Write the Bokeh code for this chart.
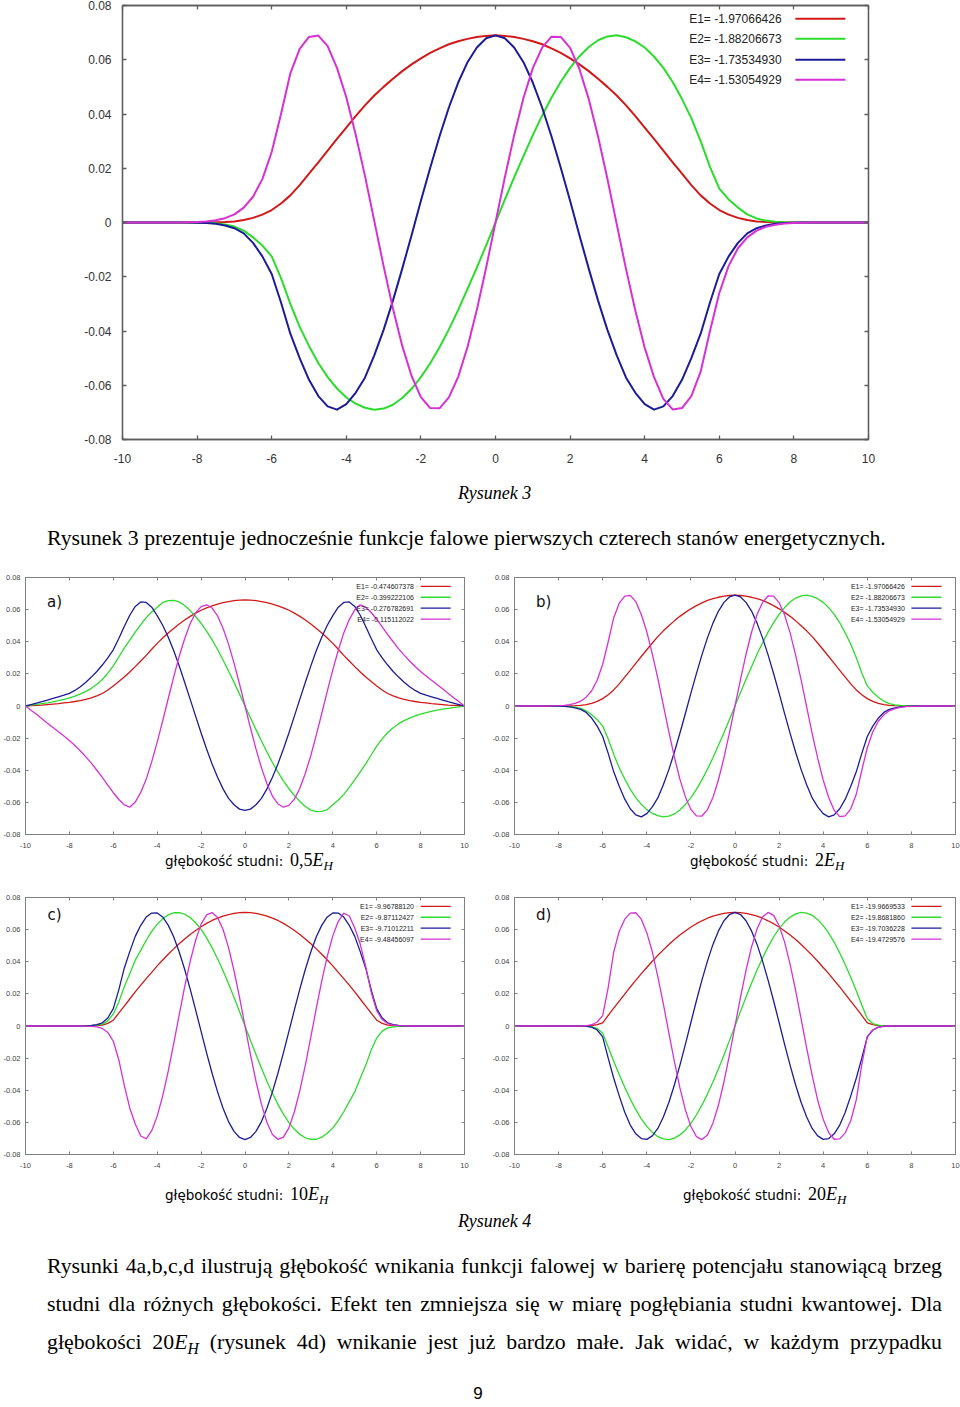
from bokeh.plotting import figure
from bokeh.models import (Range1d, FixedTicker, LinearAxis, Label, Arrow,
                          CustomJSTickFormatter, Div, ColumnDataSource)
from bokeh.layouts import column, row
from bokeh.embed import file_html
from bokeh.resources import INLINE

# ---------------- data ----------------
X_TICKS = [-10, -8, -6, -4, -2, 0, 2, 4, 6, 8, 10]
Y_TICKS = [-0.08, -0.06, -0.04, -0.02, 0, 0.02, 0.04, 0.06, 0.08]

X = [-10.0, -9.75, -9.5, -9.25, -9.0, -8.75, -8.5, -8.25, -8.0, -7.75, -7.5, -7.25,
     -7.0, -6.75, -6.5, -6.25, -6.0, -5.75, -5.5, -5.25, -5.0, -4.75, -4.5, -4.25,
     -4.0, -3.75, -3.5, -3.25, -3.0, -2.75, -2.5, -2.25, -2.0, -1.75, -1.5, -1.25,
     -1.0, -0.75, -0.5, -0.25, 0.0, 0.25, 0.5, 0.75, 1.0, 1.25, 1.5, 1.75, 2.0, 2.25,
     2.5, 2.75, 3.0, 3.25, 3.5, 3.75, 4.0, 4.25, 4.5, 4.75, 5.0, 5.25, 5.5, 5.75, 6.0,
     6.25, 6.5, 6.75, 7.0, 7.25, 7.5, 7.75, 8.0, 8.25, 8.5, 8.75, 9.0, 9.25, 9.5, 9.75, 10.0]

# well depth 2 E_H (Rysunek 3 and 4b)
W2_E1 = [0, 0, 0, 0, 0, 0, 0, 0, 0, 0, 0.0001, 0.0002, 0.0004, 0.0009, 0.0017, 0.0029, 0.0046,
         0.0070, 0.0100, 0.0138, 0.0180, 0.0222, 0.0265, 0.0308, 0.0350, 0.0392, 0.0432, 0.0468,
         0.0500, 0.0530, 0.0558, 0.0583, 0.0605, 0.0625, 0.0642, 0.0657, 0.0668, 0.0677, 0.0684,
         0.0688, 0.0690, 0.0688, 0.0684, 0.0677, 0.0668, 0.0657, 0.0642, 0.0625, 0.0605, 0.0583,
         0.0558, 0.0530, 0.0500, 0.0468, 0.0432, 0.0392, 0.0350, 0.0308, 0.0265, 0.0222, 0.0180,
         0.0138, 0.0100, 0.0070, 0.0046, 0.0029, 0.0017, 0.0009, 0.0004, 0.0002, 0.0001,
         0, 0, 0, 0, 0, 0, 0, 0, 0, 0]
W2_E2 = [0, 0, 0, 0, 0, 0, 0, 0, 0, -0.0001, -0.0003, -0.0007, -0.0015, -0.0030, -0.0055, -0.0085,
         -0.0125, -0.0205, -0.0300, -0.0385, -0.0455, -0.0518, -0.0570, -0.0612, -0.0645, -0.0668,
         -0.0683, -0.0690, -0.0686, -0.0672, -0.0647, -0.0613, -0.0570, -0.0519, -0.0460, -0.0394,
         -0.0322, -0.0245, -0.0166, -0.0084, 0,
         0.0084, 0.0166, 0.0245, 0.0322, 0.0394, 0.0460, 0.0519, 0.0570, 0.0613, 0.0647, 0.0672,
         0.0686, 0.0690, 0.0683, 0.0668, 0.0645, 0.0612, 0.0570, 0.0518, 0.0455, 0.0385, 0.0300,
         0.0205, 0.0125, 0.0085, 0.0055, 0.0030, 0.0015, 0.0007, 0.0003, 0.0001,
         0, 0, 0, 0, 0, 0, 0, 0, 0]
W2_E3 = [0, 0, 0, 0, 0, 0, 0, 0, -0.0001, -0.0002, -0.0005, -0.0011, -0.0021, -0.0040, -0.0075,
         -0.0125, -0.0190, -0.0295, -0.0410, -0.0500, -0.0580, -0.0640, -0.0678, -0.0690, -0.0670,
         -0.0628, -0.0572, -0.0490, -0.0396, -0.0288, -0.0170, -0.0047, 0.0080, 0.0202, 0.0318,
         0.0424, 0.0516, 0.0591, 0.0645, 0.0679, 0.0690,
         0.0679, 0.0645, 0.0591, 0.0516, 0.0424, 0.0318, 0.0202, 0.0080, -0.0047, -0.0170, -0.0288,
         -0.0396, -0.0490, -0.0572, -0.0628, -0.0670, -0.0690, -0.0678, -0.0640, -0.0580, -0.0500,
         -0.0410, -0.0295, -0.0190, -0.0125, -0.0075, -0.0040, -0.0021, -0.0011, -0.0005, -0.0002,
         -0.0001, 0, 0, 0, 0, 0, 0, 0, 0]
W2_E4 = [0, 0, 0, 0, 0, 0, 0, 0.0001, 0.0002, 0.0004, 0.0008, 0.0016, 0.0030, 0.0055, 0.0095,
         0.0160, 0.0260, 0.0400, 0.0550, 0.0640, 0.0684, 0.0689, 0.0650, 0.0570, 0.0462, 0.0325,
         0.0172, 0.0006, -0.0161, -0.0317, -0.0455, -0.0566, -0.0644, -0.0684, -0.0685, -0.0645,
         -0.0569, -0.0459, -0.0322, -0.0166, 0,
         0.0166, 0.0322, 0.0459, 0.0569, 0.0645, 0.0685, 0.0684, 0.0644, 0.0566, 0.0455, 0.0317,
         0.0161, -0.0006, -0.0172, -0.0325, -0.0462, -0.0570, -0.0650, -0.0689, -0.0684, -0.0640,
         -0.0550, -0.0400, -0.0260, -0.0160, -0.0095, -0.0055, -0.0030, -0.0016, -0.0008, -0.0004,
         -0.0002, -0.0001, 0, 0, 0, 0, 0, 0, 0]

# well depth 0.5 E_H (4a)
W05_E1 = [0, 0.0002, 0.0004, 0.0006, 0.0009, 0.0012, 0.0015, 0.0019, 0.0023, 0.0028, 0.0034,
          0.0041, 0.005, 0.0063, 0.0078, 0.0100, 0.0125, 0.0152, 0.018, 0.0212, 0.0245, 0.028,
          0.0315, 0.0353, 0.039, 0.0423, 0.0455, 0.0483, 0.051, 0.0535, 0.0558, 0.0578, 0.0596,
          0.0611, 0.0623, 0.0634, 0.0643, 0.065, 0.0656, 0.0659, 0.066,
          0.0659, 0.0656, 0.065, 0.0643, 0.0634, 0.0623, 0.0611, 0.0596, 0.0578, 0.0558, 0.0535,
          0.051, 0.0483, 0.0455, 0.0423, 0.039, 0.0353, 0.0315, 0.028, 0.0245, 0.0212, 0.018,
          0.0152, 0.0125, 0.0100, 0.0078, 0.0063, 0.005, 0.0041, 0.0034, 0.0028, 0.0023, 0.0019,
          0.0015, 0.0012, 0.0009, 0.0006, 0.0004, 0.0002, 0]
W05_E2 = [0, 0.0005, 0.001, 0.0015, 0.002, 0.0026, 0.0033, 0.0041, 0.005, 0.0061, 0.0075, 0.0091,
          0.011, 0.0135, 0.0165, 0.0205, 0.025, 0.0305, 0.036, 0.041, 0.046, 0.0507, 0.055,
          0.0585, 0.0615, 0.0645, 0.0656, 0.0657, 0.0648, 0.0626, 0.0594, 0.0557, 0.0515, 0.0466,
          0.0412, 0.0352, 0.0286, 0.0218, 0.0147, 0.0074, 0,
          -0.0074, -0.0147, -0.0218, -0.0286, -0.0352, -0.0412, -0.0466, -0.0515, -0.0557, -0.0594,
          -0.0626, -0.0648, -0.0657, -0.0656, -0.0645, -0.0615, -0.0585, -0.055, -0.0507, -0.046,
          -0.041, -0.036, -0.0305, -0.025, -0.0205, -0.0165, -0.0135, -0.011, -0.0091, -0.0075,
          -0.0061, -0.005, -0.0041, -0.0033, -0.0026, -0.002, -0.0015, -0.001, -0.0005, 0]
W05_E3 = [0, 0.0009, 0.0018, 0.0027, 0.0037, 0.0047, 0.0057, 0.0067, 0.0079, 0.0097, 0.012, 0.0148,
          0.018, 0.0215, 0.0255, 0.030, 0.035, 0.042, 0.0495, 0.0565, 0.062, 0.0648, 0.0645,
          0.0615, 0.0563, 0.0503, 0.043, 0.0345, 0.025, 0.0148, 0.0043, -0.0063, -0.0168, -0.0268,
          -0.0361, -0.0444, -0.0516, -0.0575, -0.0615, -0.0642, -0.065,
          -0.0642, -0.0615, -0.0575, -0.0516, -0.0444, -0.0361, -0.0268, -0.0168, -0.0063, 0.0043,
          0.0148, 0.025, 0.0345, 0.043, 0.0503, 0.0563, 0.0615, 0.0645, 0.0648, 0.062, 0.0565,
          0.0495, 0.042, 0.035, 0.030, 0.0255, 0.0215, 0.018, 0.0148, 0.012, 0.0097, 0.0079,
          0.0067, 0.0057, 0.0047, 0.0037, 0.0027, 0.0018, 0.0009, 0]
W05_E4 = [0, -0.0026, -0.0052, -0.008, -0.0108, -0.0134, -0.016, -0.0187, -0.0215, -0.0246, -0.028,
          -0.0317, -0.0356, -0.04, -0.0445, -0.0492, -0.054, -0.0582, -0.0615, -0.063, -0.0598,
          -0.0538, -0.0455, -0.0347, -0.0225, -0.0093, 0.0045, 0.018, 0.0308, 0.0419, 0.0512,
          0.058, 0.0619, 0.063, 0.061, 0.0561, 0.0484, 0.0385, 0.0267, 0.0137, 0,
          -0.0137, -0.0267, -0.0385, -0.0484, -0.0561, -0.061, -0.063, -0.0619, -0.058, -0.0512,
          -0.0419, -0.0308, -0.018, -0.0045, 0.0093, 0.0225, 0.0347, 0.0455, 0.0538, 0.0598, 0.063,
          0.0615, 0.0582, 0.054, 0.0492, 0.0445, 0.04, 0.0356, 0.0317, 0.028, 0.0246, 0.0215,
          0.0187, 0.016, 0.0134, 0.0108, 0.008, 0.0052, 0.0026, 0]

# well depth 10 E_H (4c)
W10_E1 = [0, 0, 0, 0, 0, 0, 0, 0, 0, 0, 0, 0, 0.0001, 0.0002, 0.0006, 0.0016, 0.0036, 0.0080,
          0.0124, 0.0168, 0.0212, 0.0254, 0.0295, 0.0334, 0.0374, 0.0411, 0.0447, 0.0480, 0.0512,
          0.0542, 0.0570, 0.0595, 0.0618, 0.0639, 0.0657, 0.0672, 0.0684, 0.0694, 0.0701, 0.0706,
          0.0707,
          0.0706, 0.0701, 0.0694, 0.0684, 0.0672, 0.0657, 0.0639, 0.0618, 0.0595, 0.0570, 0.0542,
          0.0512, 0.0480, 0.0447, 0.0411, 0.0374, 0.0334, 0.0295, 0.0254, 0.0212, 0.0168, 0.0124,
          0.0080, 0.0036, 0.0016, 0.0006, 0.0002, 0.0001, 0, 0, 0, 0, 0, 0, 0, 0, 0, 0, 0, 0]
W10_E2 = [0, 0, 0, 0, 0, 0, 0, 0, 0, 0, 0, 0, 0.0002, 0.0005, 0.0012, 0.0032, 0.0075, 0.015,
          0.0245, 0.0325, 0.041, 0.0471, 0.0534, 0.0589, 0.0634, 0.0668, 0.0692, 0.0705, 0.0706,
          0.0696, 0.0675, 0.0643, 0.0601, 0.0549, 0.0488, 0.0419, 0.0344, 0.0263, 0.0178, 0.009, 0,
          -0.009, -0.0178, -0.0263, -0.0344, -0.0419, -0.0488, -0.0549, -0.0601, -0.0643, -0.0675,
          -0.0696, -0.0706, -0.0705, -0.0692, -0.0668, -0.0634, -0.0589, -0.0534, -0.0471, -0.041,
          -0.0325, -0.0245, -0.015, -0.0075, -0.0032, -0.0012, -0.0005, -0.0002,
          0, 0, 0, 0, 0, 0, 0, 0, 0, 0, 0, 0]
W10_E3 = [0, 0, 0, 0, 0, 0, 0, 0, 0, 0, 0, 0.0001, 0.0003, 0.0008, 0.002, 0.005, 0.0108, 0.0225,
          0.036, 0.0463, 0.0558, 0.0627, 0.0678, 0.0703, 0.0704, 0.0679, 0.0628, 0.0556, 0.0462,
          0.0353, 0.0231, 0.0100, -0.0034, -0.0167, -0.0294, -0.0410, -0.0512, -0.0595, -0.0656,
          -0.0694, -0.0707,
          -0.0694, -0.0656, -0.0595, -0.0512, -0.0410, -0.0294, -0.0167, -0.0034, 0.0100, 0.0231,
          0.0353, 0.0462, 0.0556, 0.0628, 0.0679, 0.0704, 0.0703, 0.0678, 0.0627, 0.0558, 0.0463,
          0.036, 0.0225, 0.0108, 0.005, 0.002, 0.0008, 0.0003, 0.0001,
          0, 0, 0, 0, 0, 0, 0, 0, 0, 0, 0]
W10_E4 = [0, 0, 0, 0, 0, 0, 0, 0, 0, 0, 0, -0.0001, -0.0002, -0.0006, -0.0015, -0.004, -0.0095,
          -0.021, -0.037, -0.051, -0.061, -0.0685, -0.0702, -0.0652, -0.0561, -0.0435, -0.0283,
          -0.0111, 0.0068, 0.0243, 0.0401, 0.0534, 0.0634, 0.0692, 0.0706, 0.0675, 0.0601, 0.0488,
          0.0344, 0.0178, 0,
          -0.0178, -0.0344, -0.0488, -0.0601, -0.0675, -0.0706, -0.0692, -0.0634, -0.0534, -0.0401,
          -0.0243, -0.0068, 0.0111, 0.0283, 0.0435, 0.0561, 0.0652, 0.0702, 0.0685, 0.061, 0.051,
          0.037, 0.021, 0.0095, 0.004, 0.0015, 0.0006, 0.0002, 0.0001,
          0, 0, 0, 0, 0, 0, 0, 0, 0, 0, 0]

# well depth 20 E_H (4d)
W20_E1 = [0, 0, 0, 0, 0, 0, 0, 0, 0, 0, 0, 0, 0, 0.0001, 0.0003, 0.0008, 0.002, 0.0066, 0.0111,
          0.0155, 0.0199, 0.0243, 0.0284, 0.0326, 0.0364, 0.0403, 0.044, 0.0474, 0.0507, 0.0538,
          0.0566, 0.0592, 0.0616, 0.0637, 0.0655, 0.0671, 0.0684, 0.0694, 0.0701, 0.0706, 0.0707,
          0.0706, 0.0701, 0.0694, 0.0684, 0.0671, 0.0655, 0.0637, 0.0616, 0.0592, 0.0566, 0.0538,
          0.0507, 0.0474, 0.044, 0.0403, 0.0364, 0.0326, 0.0284, 0.0243, 0.0199, 0.0155, 0.0111,
          0.0066, 0.002, 0.0008, 0.0003, 0.0001, 0, 0, 0, 0, 0, 0, 0, 0, 0, 0, 0, 0, 0]
W20_E2 = [0, 0, 0, 0, 0, 0, 0, 0, 0, 0, 0, 0, 0, -0.0001, -0.0005, -0.0015, -0.0045, -0.0131,
          -0.0219, -0.0303, -0.0382, -0.0455, -0.0521, -0.0578, -0.0625, -0.0662, -0.0689, -0.0703,
          -0.0707, -0.0698, -0.0678, -0.0647, -0.0606, -0.0554, -0.0493, -0.0424, -0.0348, -0.0266,
          -0.018, -0.0091, 0,
          0.0091, 0.018, 0.0266, 0.0348, 0.0424, 0.0493, 0.0554, 0.0606, 0.0647, 0.0678, 0.0698,
          0.0707, 0.0703, 0.0689, 0.0662, 0.0625, 0.0578, 0.0521, 0.0455, 0.0382, 0.0303, 0.0219,
          0.0131, 0.0045, 0.0015, 0.0005, 0.0001, 0, 0, 0, 0, 0, 0, 0, 0, 0, 0, 0, 0, 0]
W20_E3 = [0, 0, 0, 0, 0, 0, 0, 0, 0, 0, 0, 0, 0, -0.0002, -0.0007, -0.0025, -0.0068, -0.0200,
          -0.0325, -0.0435, -0.0537, -0.0617, -0.0671, -0.0701, -0.0706, -0.0684, -0.0638, -0.0567,
          -0.0476, -0.0367, -0.0245, -0.0114, 0.0022, 0.0157, 0.0286, 0.0404, 0.0508, 0.0592,
          0.0655, 0.0694, 0.0707,
          0.0694, 0.0655, 0.0592, 0.0508, 0.0404, 0.0286, 0.0157, 0.0022, -0.0114, -0.0245, -0.0367,
          -0.0476, -0.0567, -0.0638, -0.0684, -0.0706, -0.0701, -0.0671, -0.0617, -0.0537, -0.0435,
          -0.0325, -0.0200, -0.0068, -0.0025, -0.0007, -0.0002, 0, 0, 0, 0, 0, 0, 0, 0, 0, 0, 0, 0, 0]
W20_E4 = [0, 0, 0, 0, 0, 0, 0, 0, 0, 0, 0, 0, 0, 0.0001, 0.0008, 0.0025, 0.0065, 0.024, 0.046,
          0.059, 0.0665, 0.0703, 0.0705, 0.0665, 0.0581, 0.0462, 0.0308, 0.0138, -0.0043, -0.0220,
          -0.0384, -0.0522, -0.0626, -0.0689, -0.0707, -0.0678, -0.0605, -0.0492, -0.0347, -0.018, 0,
          0.018, 0.0347, 0.0492, 0.0605, 0.0678, 0.0707, 0.0689, 0.0626, 0.0522, 0.0384, 0.022,
          0.0043, -0.0138, -0.0308, -0.0462, -0.0581, -0.0665, -0.0705, -0.0703, -0.0665, -0.059,
          -0.046, -0.024, -0.0065, -0.0025, -0.0008, -0.0001, 0, 0, 0, 0, 0, 0, 0, 0, 0, 0, 0, 0, 0]

LABELS_2 = ["E1= -1.97066426", "E2= -1.88206673", "E3= -1.73534930", "E4= -1.53054929"]
LABELS_05 = ["E1= -0.474607378", "E2= -0.399222106", "E3= -0.276782691", "E4= -0.115112022"]
LABELS_10 = ["E1= -9.96788120", "E2= -9.87112427", "E3= -9.71012211", "E4= -9.48456097"]
LABELS_20 = ["E1= -19.9669533", "E2= -19.8681860", "E3= -19.7036228", "E4= -19.4729576"]

COLORS = ["#d21818", "#2cdc2c", "#1c1c98", "#d630d6"]

for arr in (W2_E1, W2_E2, W2_E3, W2_E4, W05_E1, W05_E2, W05_E3, W05_E4, W10_E1, W10_E2,
            W10_E3, W10_E4, W20_E1, W20_E2, W20_E3, W20_E4):
    assert len(arr) == len(X), len(arr)

SANS = "Liberation Sans"
SERIF = "Liberation Serif"

BIG_STYLE = dict(axis_color="#5c5c5c", axis_width=1.3, tick_len=4, tick_font="12px",
                 tick_color="#333333", sx=14, sy=11, line_width=2.0, leg_font="12px",
                 leg_rows=[0.0751, 0.0677, 0.0600, 0.0526], leg_xt=7.67, leg_x0=8.04,
                 leg_x1=9.38, leg_lw=2.0)
SMALL_STYLE = dict(axis_color="#808080", axis_width=1.0, tick_len=3, tick_font="7.5px",
                   tick_color="#444444", sx=8, sy=5, line_width=1.3, leg_font="7px",
                   leg_rows=[0.0745, 0.0677, 0.0609, 0.0541], leg_xt=7.7, leg_x0=8.0,
                   leg_x1=9.37, leg_lw=1.3)


def make_panel(series, labels, width, height, borders, sty, tag=None, tag_y=0.065):
    p = figure(width=width, height=height, x_range=Range1d(-10, 10),
               y_range=Range1d(-0.08, 0.08), output_backend="svg", toolbar_location=None,
               min_border_left=borders[0], min_border_right=borders[1],
               min_border_top=borders[2], min_border_bottom=borders[3],
               outline_line_color=sty["axis_color"], outline_line_width=sty["axis_width"],
               background_fill_color="white", border_fill_color="white", margin=(0, 0, 0, 0))
    p.xgrid.visible = False
    p.ygrid.visible = False
    fmt = CustomJSTickFormatter(code="return String(Math.round(tick * 100) / 100);")
    blank = CustomJSTickFormatter(code="return '';")
    top = LinearAxis()
    right = LinearAxis()
    p.add_layout(top, "above")
    p.add_layout(right, "right")
    for ax, ticks, show, standoff in ((p.below[0], X_TICKS, True, sty["sx"]),
                                      (p.left[0], Y_TICKS, True, sty["sy"]),
                                      (top, X_TICKS, False, 0),
                                      (right, Y_TICKS, False, 0)):
        ax.ticker = FixedTicker(ticks=ticks, minor_ticks=[])
        ax.axis_line_color = sty["axis_color"]
        ax.axis_line_width = sty["axis_width"]
        ax.major_tick_in = sty["tick_len"]
        ax.major_tick_out = 0
        ax.major_tick_line_color = sty["axis_color"]
        ax.major_tick_line_width = sty["axis_width"]
        ax.minor_tick_in = 0
        ax.minor_tick_out = 0
        ax.minor_tick_line_color = None
        ax.major_label_standoff = standoff
        if show:
            ax.formatter = fmt
            ax.major_label_text_font = SANS
            ax.major_label_text_font_size = sty["tick_font"]
            ax.major_label_text_color = sty["tick_color"]
        else:
            ax.formatter = blank
            ax.major_label_text_font_size = "1px"
    src = ColumnDataSource(dict(x=X, e1=series[0], e2=series[1], e3=series[2], e4=series[3]))
    for key, c in zip(["e1", "e2", "e3", "e4"], COLORS):
        p.line("x", key, source=src, line_color=c, line_width=sty["line_width"],
               line_join="round")
    for lab, c, yy in zip(labels, COLORS, sty["leg_rows"]):
        p.add_layout(Label(x=sty["leg_xt"], y=yy, text=lab, text_align="right",
                           text_baseline="middle", text_font=SANS,
                           text_font_size=sty["leg_font"], text_color="#222222"))
        p.add_layout(Arrow(end=None, x_start=sty["leg_x0"], y_start=yy, x_end=sty["leg_x1"],
                           y_end=yy, line_color=c, line_width=sty["leg_lw"]))
    if tag:
        p.add_layout(Label(x=-8.68, y=tag_y, text=tag, text_align="center",
                           text_baseline="middle", text_font="DejaVu Sans",
                           text_font_size="15px", text_color="#111111"))
    return p


big = make_panel([W2_E1, W2_E2, W2_E3, W2_E4], LABELS_2, 960, 470,
                 (122, 92, 5, 31), BIG_STYLE)

pa = make_panel([W05_E1, W05_E2, W05_E3, W05_E4], LABELS_05, 489, 294,
                (23, 25, 17, 20), SMALL_STYLE, tag="a)")
pb = make_panel([W2_E1, W2_E2, W2_E3, W2_E4], LABELS_2, 471, 294,
                (25, 5, 17, 20), SMALL_STYLE, tag="b)")
pc = make_panel([W10_E1, W10_E2, W10_E3, W10_E4], LABELS_10, 489, 300,
                (23, 25, 25, 18), SMALL_STYLE, tag="c)", tag_y=0.0694)
pd = make_panel([W20_E1, W20_E2, W20_E3, W20_E4], LABELS_20, 471, 300,
                (25, 5, 25, 18), SMALL_STYLE, tag="d)", tag_y=0.0694)


def div(html, width, height):
    return Div(text=html, width=width, height=height, margin=(0, 0, 0, 0))


SUB = "<sub style=\"font-size:0.72em;vertical-align:-0.3em;line-height:0;\"><i>H</i></sub>"


def caption(val, pad_left, pad_top, lh):
    return ("<div style=\"padding-left:%dpx;padding-top:%dpx;white-space:nowrap;color:#000;"
            "line-height:%dpx;\"><span style=\"font-family:'DejaVu Sans';font-size:13.5px;\">"
            "głębokość studni:</span>&nbsp;&nbsp;<span style=\"font-family:'%s';"
            "font-size:18px;\">%s<i>E</i>%s</span></div>" % (pad_left, pad_top, lh, SERIF, val, SUB))


r3 = div("<div style=\"font-family:'%s';font-style:italic;font-size:18px;line-height:20px;"
         "padding-top:13px;padding-left:458px;color:#000;\">Rysunek 3</div>" % SERIF, 960, 40)

sent = div("<div style=\"padding-top:16px;padding-left:47px;white-space:nowrap;"
           "font-family:'%s';font-size:21.8px;line-height:24px;color:#000;\">Rysunek 3 "
           "prezentuje jednocześnie funkcje falowe pierwszych czterech stanów "
           "energetycznych.</div>" % SERIF, 960, 50)

cap1 = row(div(caption("0,5", 165, 0, 10), 489, 18), div(caption("2", 201, 0, 10), 471, 18))
cap2 = row(div(caption("10", 165, 14, 16), 489, 36), div(caption("20", 194, 14, 16), 471, 36))

r4 = div("<div style=\"font-family:'%s';font-style:italic;font-size:18px;line-height:20px;"
         "padding-top:3px;padding-left:458px;color:#000;\">Rysunek 4</div>" % SERIF, 960, 32)

LINE_STYLE = ("width:895px;font-family:'%s';font-size:21.8px;line-height:38px;height:38px;"
              "text-align:justify;text-align-last:justify;color:#000;" % SERIF)
para_lines = [
    "Rysunki 4a,b,c,d ilustrują głębokość wnikania funkcji falowej w barierę potencjału "
    "stanowiącą brzeg",
    "studni dla różnych głębokości. Efekt ten zmniejsza się w miarę pogłębiania studni "
    "kwantowej. Dla",
    "głębokości 20<i>E</i>" + SUB + " (rysunek 4d) wnikanie jest już bardzo małe. Jak widać, "
    "w każdym przypadku",
]
para = div("<div style=\"padding-top:7px;padding-left:47px;\">" +
           "".join("<div style=\"%s\">%s</div>" % (LINE_STYLE, t) for t in para_lines) +
           "</div>", 960, 125)

num = div("<div style=\"width:956px;text-align:center;font-family:'%s';font-size:17px;"
          "line-height:20px;padding-top:19px;color:#000;\">9</div>" % SANS, 960, 38)

layout = column(big, r3, sent, row(pa, pb), cap1, row(pc, pd), cap2, r4, para, num,
                spacing=0)

with open("out.html", "w", encoding="utf-8") as f:
    f.write(file_html(layout, INLINE))
